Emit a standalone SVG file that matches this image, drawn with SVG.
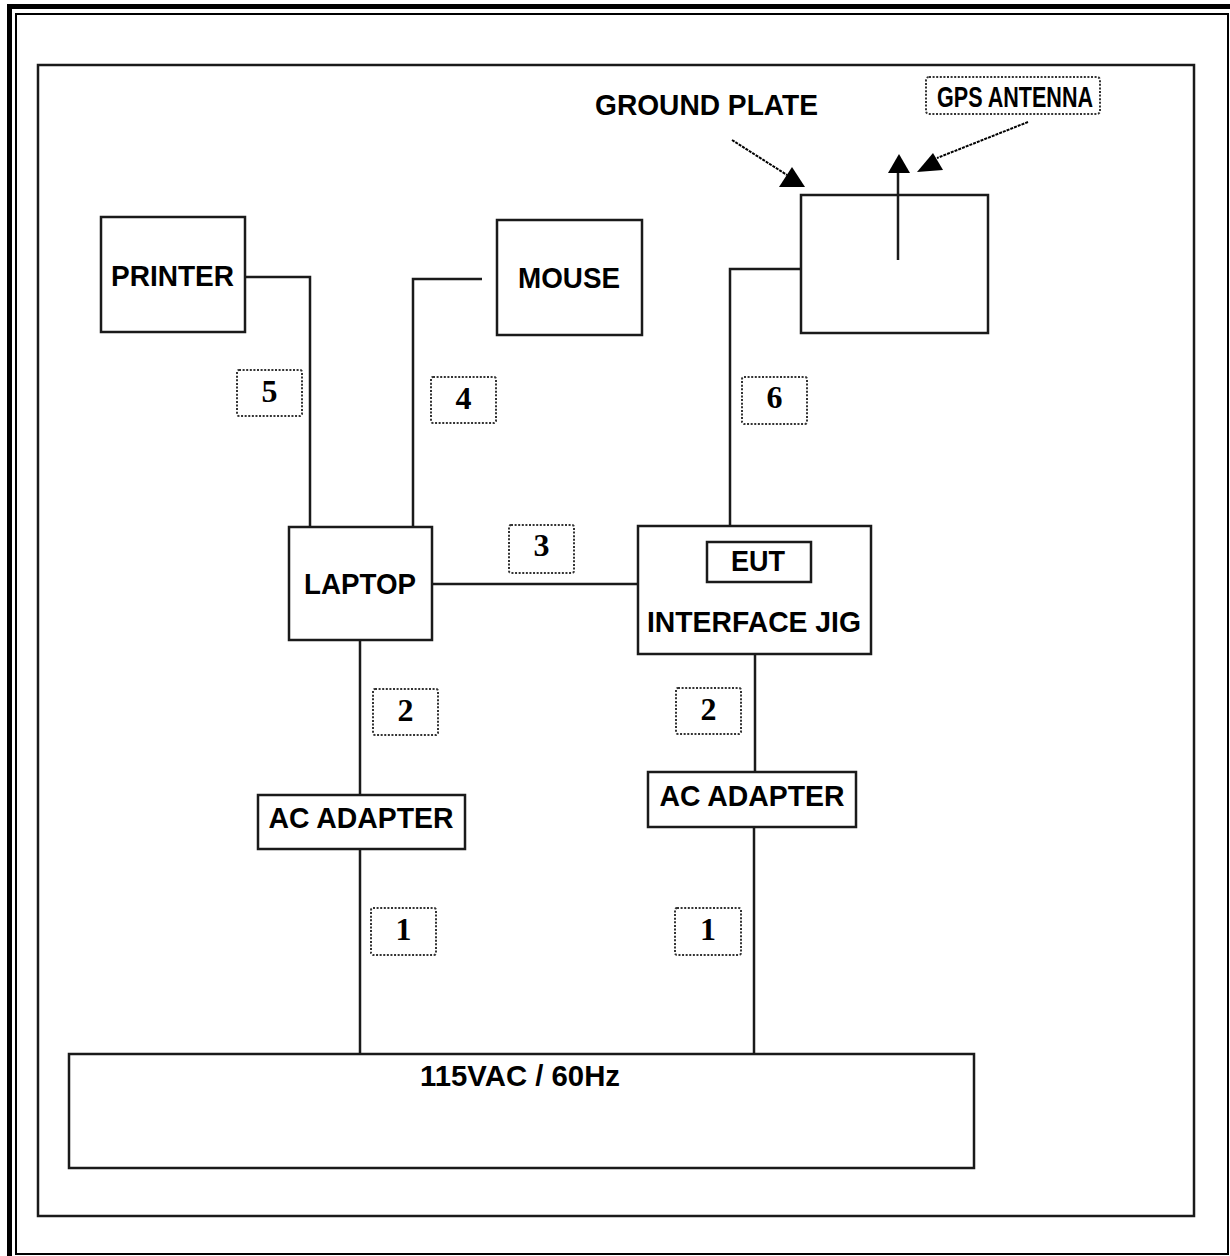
<svg xmlns="http://www.w3.org/2000/svg" width="1230" height="1256" viewBox="0 0 1230 1256">
<style>
.box{fill:#fff;stroke:#1a1a1a;stroke-width:2.5}
.ln{fill:none;stroke:#1a1a1a;stroke-width:2.5}
.lbl{fill:#fff;stroke:#333;stroke-width:2;stroke-dasharray:2 1.6}
.t{font-family:"Liberation Sans",Arial,sans-serif;font-weight:bold;font-size:29.5px;fill:#000;text-anchor:middle}
.n{font-family:"Liberation Serif","Times New Roman",serif;font-weight:bold;font-size:32px;fill:#000;text-anchor:middle}
.ah{fill:#000}
</style>
<rect width="1230" height="1256" fill="#fff"/>
<g id="frame">
<rect x="9.5" y="6.5" width="1400" height="1400" fill="none" stroke="#000" stroke-width="5"/>
<rect x="16" y="14" width="1212" height="1240" fill="none" stroke="#000" stroke-width="2"/>
<rect x="38" y="65" width="1156" height="1151" fill="none" stroke="#1a1a1a" stroke-width="2.5"/>
</g>
<g id="connectors">
<polyline class="ln" points="245,277 310,277 310,527"/>
<polyline class="ln" points="482,279 413,279 413,527"/>
<line class="ln" x1="432" y1="584" x2="638" y2="584"/>
<polyline class="ln" points="804,269 730,269 730,527"/>
<line class="ln" x1="360" y1="640" x2="360" y2="795"/>
<line class="ln" x1="360" y1="849" x2="360" y2="1054"/>
<line class="ln" x1="755" y1="654" x2="755" y2="772"/>
<line class="ln" x1="754" y1="827" x2="754" y2="1054"/>
<line class="ln" x1="898" y1="260" x2="898" y2="170"/>
<polygon class="ah" points="888,173 910,173 899,154"/>
<line x1="732" y1="140" x2="787" y2="175" stroke="#000" stroke-width="2" stroke-dasharray="3 1"/>
<polygon class="ah" points="779,187 805,187 792,167"/>
<line x1="1028" y1="122" x2="937" y2="158" stroke="#000" stroke-width="2" stroke-dasharray="3 1"/>
<polygon class="ah" points="917,172 943,170 933,153"/>
</g>
<g id="printer">
<rect class="box" x="101" y="217" width="144" height="115"/>
<text class="t" x="172.5" y="286" textLength="123" lengthAdjust="spacingAndGlyphs">PRINTER</text>
</g>
<g id="mouse">
<rect class="box" x="497" y="220" width="145" height="115"/>
<text class="t" x="569" y="288" textLength="102" lengthAdjust="spacingAndGlyphs">MOUSE</text>
</g>
<g id="ground-plate">
<rect class="box" x="801" y="195" width="187" height="138" fill="none"/>
<line class="ln" x1="898" y1="195" x2="898" y2="260"/>
<text class="t" x="706.5" y="115" textLength="223" lengthAdjust="spacingAndGlyphs">GROUND PLATE</text>
</g>
<g id="gps-antenna">
<rect class="lbl" x="926" y="77" width="174" height="37" rx="3"/>
<text class="t" x="937" y="107" style="text-anchor:start" textLength="156" lengthAdjust="spacingAndGlyphs">GPS ANTENNA</text>
</g>
<g id="laptop">
<rect class="box" x="289" y="527" width="143" height="113"/>
<text class="t" x="360" y="594" textLength="112" lengthAdjust="spacingAndGlyphs">LAPTOP</text>
</g>
<g id="interface-jig">
<rect class="box" x="638" y="526" width="233" height="128"/>
<rect class="box" x="707" y="542" width="104" height="40"/>
<text class="t" x="758" y="571" textLength="54" lengthAdjust="spacingAndGlyphs">EUT</text>
<text class="t" x="754" y="632" textLength="214" lengthAdjust="spacingAndGlyphs">INTERFACE JIG</text>
</g>
<g id="ac-adapter-left">
<rect class="box" x="258" y="795" width="207" height="54"/>
<text class="t" x="361" y="828" textLength="185" lengthAdjust="spacingAndGlyphs">AC ADAPTER</text>
</g>
<g id="ac-adapter-right">
<rect class="box" x="648" y="772" width="208" height="55"/>
<text class="t" x="752" y="806" textLength="185" lengthAdjust="spacingAndGlyphs">AC ADAPTER</text>
</g>
<g id="power">
<rect class="box" x="69" y="1054" width="905" height="114"/>
<text class="t" x="520" y="1086" textLength="200" lengthAdjust="spacingAndGlyphs">115VAC / 60Hz</text>
</g>
<g id="labels">
<rect class="lbl" x="237" y="370" width="65" height="46" rx="2"/><text class="n" x="269.5" y="402">5</text>
<rect class="lbl" x="431" y="377" width="65" height="46" rx="2"/><text class="n" x="463.5" y="409">4</text>
<rect class="lbl" x="742" y="377" width="65" height="47" rx="2"/><text class="n" x="774.5" y="408">6</text>
<rect class="lbl" x="509" y="525" width="65" height="48" rx="2"/><text class="n" x="541.5" y="556">3</text>
<rect class="lbl" x="373" y="689" width="65" height="46" rx="2"/><text class="n" x="405.5" y="721">2</text>
<rect class="lbl" x="676" y="688" width="65" height="46" rx="2"/><text class="n" x="708.5" y="720">2</text>
<rect class="lbl" x="371" y="908" width="65" height="47" rx="2"/><text class="n" x="403.5" y="940">1</text>
<rect class="lbl" x="675" y="908" width="66" height="47" rx="2"/><text class="n" x="708" y="940">1</text>
</g>
</svg>
